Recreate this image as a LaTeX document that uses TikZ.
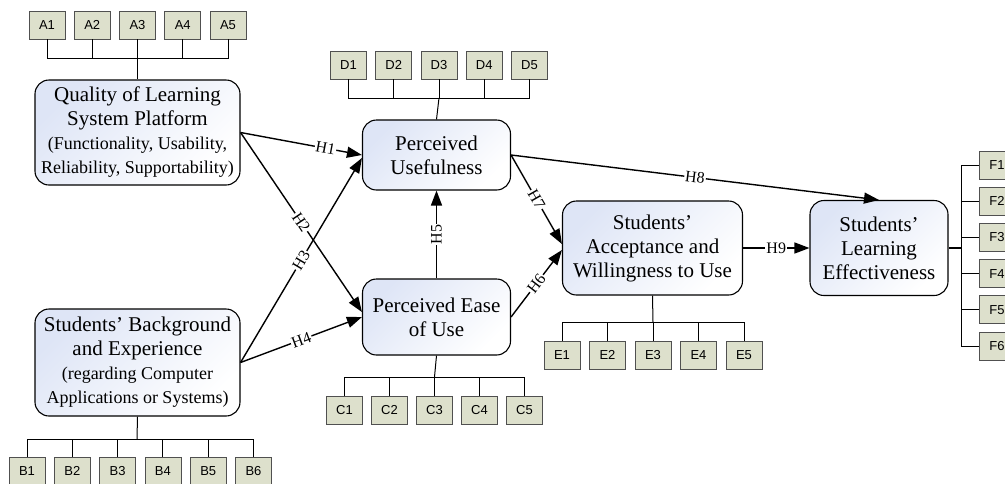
\documentclass[tikz,border=0pt]{standalone}
\usepackage{fontspec}
\setmainfont{Liberation Serif}
\setsansfont{Liberation Sans}
\usepackage{tikz}
\usetikzlibrary{arrows.meta, calc}
\definecolor{boxblue}{RGB}{222,229,246}
\definecolor{itemfill}{RGB}{221,224,204}
\definecolor{itemline}{RGB}{80,80,80}
\newcommand{\subtext}{\fontsize{18}{20}\selectfont}
\tikzset{
    construct/.style={rectangle, rounded corners=14pt, draw, line width=1.1pt, top color=boxblue, bottom color=white, shading angle=45, text centered, align=center, inner sep=2pt, font=\fontsize{21}{24}\selectfont},
    indicator/.style={rectangle, draw=itemline, line width=0.8pt, fill=itemfill, minimum width=36pt, minimum height=28pt, inner sep=0pt, text centered, font=\sffamily\fontsize{13}{15}\selectfont},
    bus/.style={line width=1pt},
    flow/.style={-{Triangle[length=15pt, width=11pt]}, line width=1.4pt},
    hyp/.style={sloped, fill=white, inner sep=1pt, font=\fontsize{16}{18}\selectfont}
}

\begin{document}
\begin{tikzpicture}[x=1pt, y=-1pt]
    \useasboundingbox (0,0) rectangle (1005,483);
    \clip (0,0) rectangle (1005,483);

    % Constructs
    \node[construct, minimum width=205pt, minimum height=105pt] (quality) at (137.5,132.5) {%
        Quality of Learning\\System Platform\\%
        \subtext (Functionality, Usability,\\\subtext Reliability, Supportability)};
    \node[construct, minimum width=205pt, minimum height=107pt] (background) at (137.5,362.5) {%
        Students' Background\\and Experience\\%
        \subtext (regarding Computer\\\subtext Applications or Systems)};
    \node[construct, minimum width=148pt, minimum height=70pt] (useful) at (436.5,155) {Perceived\\Usefulness};
    \node[construct, minimum width=148pt, minimum height=76pt] (ease) at (436.5,317) {Perceived Ease\\of Use};
    \node[construct, minimum width=180pt, minimum height=94pt] (accept) at (652.5,248) {Students'\\Acceptance and\\Willingness to Use};
    \node[construct, minimum width=138pt, minimum height=95pt] (effect) at (879,248) {Students'\\Learning\\Effectiveness};

    % Indicators
    \foreach \i in {1,...,5} \node[indicator] (a\i) at ({47+45.25*(\i-1)},25) {A\i};
    \foreach \i in {1,...,6} \node[indicator] (b\i) at ({27+45.3*(\i-1)},471) {B\i};
    \foreach \i in {1,...,5} \node[indicator] (c\i) at ({344.5+45*(\i-1)},410) {C\i};
    \foreach \i in {1,...,5} \node[indicator] (d\i) at ({348.5+45.25*(\i-1)},65) {D\i};
    \foreach \i in {1,...,5} \node[indicator] (e\i) at ({562+45.5*(\i-1)},355) {E\i};
    \foreach \i in {1,...,6} \node[indicator] (f\i) at (997,{165+36.2*(\i-1)}) {F\i};

    % Indicator buses
    \coordinate (abus) at (137.5,58);
    \coordinate (bbus) at (137,439);
    \coordinate (cbus) at (434.5,377);
    \coordinate (dbus) at (439,98);
    \coordinate (ebus) at (653,322);
    \coordinate (fbus) at (961,248);
    \foreach \i in {1,...,5} \draw[bus] (a\i.south) |- (abus);
    \foreach \i in {1,...,6} \draw[bus] (b\i.north) |- (bbus);
    \foreach \i in {1,...,5} \draw[bus] (c\i.north) |- (cbus);
    \foreach \i in {1,...,5} \draw[bus] (d\i.south) |- (dbus);
    \foreach \i in {1,...,5} \draw[bus] (e\i.north) |- (ebus);
    \foreach \i in {1,...,6} \draw[bus] (f\i.west) -| (fbus);
    \draw[bus] (abus) -- (quality.north);
    \draw[bus] (bbus) -- (background.south);
    \draw[bus] (cbus) -- (ease.south);
    \draw[bus] (dbus) -- (useful.north);
    \draw[bus] (ebus) -- (accept.south);
    \draw[bus, line width=1.4pt] (fbus) -- (effect.east);

    % Hypotheses
    \draw[flow] (quality.east) -- node[hyp, pos=0.7] {H1} (useful.west);
    \draw[flow] (quality.east) -- node[hyp] {H2} ($(ease.west)+(0,-5)$);
    \draw[flow] (background.east) -- node[hyp] {H3} ($(useful.west)+(0,3)$);
    \draw[flow] (background.east) -- node[hyp] {H4} (ease.west);
    \draw[flow] (ease.north) -- node[hyp] {H5} (useful.south);
    \draw[flow] (ease.east) -- node[hyp] {H6} ($(accept.west)+(0,2)$);
    \draw[flow] (useful.east) -- node[hyp] {H7} ($(accept.west)+(0,-4)$);
    \draw[flow] (useful.east) -- node[hyp] {H8} (effect.north);
    \draw[flow] (accept.east) -- node[hyp] {H9} (effect.west);
\end{tikzpicture}
\end{document}
